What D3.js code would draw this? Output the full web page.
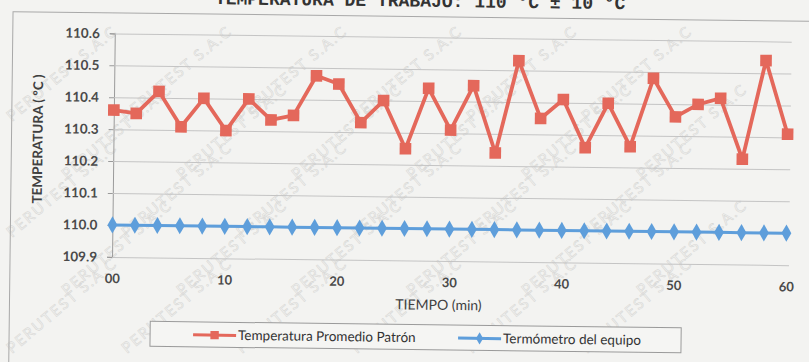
<!DOCTYPE html>
<html>
<head>
<meta charset="utf-8">
<script src="https://cdn.jsdelivr.net/npm/d3@7"></script>
<style>
  body { margin: 0; background: #f3f3f1; }
  svg { display: block; }
</style>
</head>
<body>
<div id="chart"></div>
<script>
const minutes = [0, 2, 4, 6, 8, 10, 12, 14, 16, 18, 20, 22, 24, 26, 28, 30,
                 32, 34, 36, 38, 40, 42, 44, 46, 48, 50, 52, 54, 56, 58, 60];
const patron = [110.36, 110.35, 110.42, 110.31, 110.40, 110.30, 110.40, 110.335, 110.35, 110.475, 110.45,
                110.33, 110.40, 110.25, 110.44, 110.31, 110.45, 110.24, 110.53, 110.35, 110.41,
                110.26, 110.40, 110.265, 110.48, 110.36, 110.40, 110.42, 110.23, 110.54, 110.31];
const equipo = [110.00, 110.00, 110.00, 110.00, 110.00, 110.00, 110.00, 110.00, 110.00, 110.00, 110.00,
                110.00, 110.00, 110.00, 110.00, 110.00, 110.00, 110.00, 110.00, 110.00, 110.00,
                110.00, 110.00, 110.00, 110.00, 110.00, 110.00, 110.00, 110.00, 110.00, 110.00];
const yTicks = [109.9, 110.0, 110.1, 110.2, 110.3, 110.4, 110.5, 110.6];
const xTicks = [0, 10, 20, 30, 40, 50, 60];
const xTickLabels = ['00', '10', '20', '30', '40', '50', '60'];
const seriesNames = ['Temperatura Promedio Patrón', 'Termómetro del equipo'];
const title = 'TEMPERATURA DE TRABAJO: 110 °C ± 10 °C';
const watermark = 'PERUTEST S.A.C';

const width = 809, height = 362;
const red = '#e4685b', blue = '#5e9edb';
const font = 'Lato, "Open Sans", sans-serif';

const svg = d3.select('#chart').append('svg')
    .attr('width', width)
    .attr('height', height);

// faint watermark of the scanned certificate, kept inside the page
const wm = svg.append('g').attr('class', 'watermark');
for (let r = 0; r < 5; r++) {
    for (let c = 0; c < 7; c++) {
        const x = 12 + c * 115 + (r % 2) * 55;
        const y = 122 + r * 58;
        if (x + 135 > width) continue;
        wm.append('text')
            .attr('transform', 'translate(' + x + ',' + y + ') rotate(-40)')
            .text(watermark)
            .style('font-family', font)
            .style('font-size', '15px')
            .style('letter-spacing', '2px')
            .attr('fill', 'none')
            .attr('stroke', '#d8d8d6')
            .attr('stroke-width', 0.6);
    }
}

// scanned page is slightly tilted
const page = svg.append('g').attr('transform', 'rotate(0.7,450,181)');

// outer chart frame
page.append('rect')
    .attr('x', 11).attr('y', 17)
    .attr('width', 820).attr('height', 360)
    .attr('fill', 'none')
    .attr('stroke', '#a8a8a8')
    .attr('stroke-width', 1);

page.append('text')
    .attr('x', 418).attr('y', 7)
    .attr('text-anchor', 'middle')
    .style('font-family', '"Liberation Mono", monospace')
    .style('font-weight', 'bold')
    .style('font-size', '18px')
    .attr('fill', '#333')
    .text(title);

const xScale = d3.scaleLinear().domain([0, 60]).range([113, 787]);
const yScale = d3.scaleLinear().domain([109.9, 110.6]).range([261, 37.5]);

// gridlines + y axis
const yAxis = page.append('g').classed('y-axis', true)
    .attr('transform', 'translate(113,0)')
    .call(d3.axisLeft(yScale).tickValues(yTicks).tickFormat(d3.format('.1f'))
        .tickSize(5).tickPadding(10));
yAxis.select('.domain').attr('stroke', '#9a9a9a');
yAxis.selectAll('.tick line').attr('stroke', '#9a9a9a');
yAxis.selectAll('.tick').append('line')
    .attr('x1', 0).attr('x2', 677)
    .attr('stroke', '#c4c4c4')
    .attr('stroke-width', 1);
yAxis.selectAll('text')
    .style('font-family', font)
    .style('font-size', '13.5px')
    .style('font-weight', 'bold')
    .attr('fill', '#4a4a4a');

const xAxis = page.append('g').classed('x-axis', true)
    .attr('transform', 'translate(0,' + yScale(109.9) + ')')
    .call(d3.axisBottom(xScale).tickValues(xTicks)
        .tickFormat((d, i) => xTickLabels[i]).tickSize(0).tickPadding(17));
xAxis.select('.domain').remove();
xAxis.selectAll('text')
    .style('font-family', font)
    .style('font-size', '13px')
    .style('font-weight', 'bold')
    .attr('fill', '#4a4a4a');

page.append('text')
    .attr('x', 440).attr('y', 310)
    .attr('text-anchor', 'middle')
    .style('font-family', font)
    .style('font-size', '14px')
    .attr('fill', '#404040')
    .text('TIEMPO  (min)');

page.append('text')
    .attr('transform', 'translate(42,144) rotate(-90)')
    .attr('text-anchor', 'middle')
    .style('font-family', font)
    .style('font-size', '13.5px')
    .style('font-weight', 'bold')
    .attr('fill', '#404040')
    .text('TEMPERATURA  ( ºC )');

// series
const line = d3.line()
    .x(d => xScale(d[0]))
    .y(d => yScale(d[1]));

const blueData = minutes.map((m, i) => [m, equipo[i]]);
const redData = minutes.map((m, i) => [m, patron[i]]);

page.append('path')
    .datum(blueData)
    .attr('d', line)
    .attr('fill', 'none')
    .attr('stroke', blue)
    .attr('stroke-width', 3);
page.append('g').selectAll('path')
    .data(blueData)
    .join('path')
    .attr('transform', d => 'translate(' + xScale(d[0]) + ',' + yScale(d[1]) + ')')
    .attr('d', d3.symbol(d3.symbolDiamond).size(85))
    .attr('fill', blue);

page.append('path')
    .datum(redData)
    .attr('d', line)
    .attr('fill', 'none')
    .attr('stroke', red)
    .attr('stroke-width', 3.8)
    .attr('stroke-linejoin', 'round');
page.append('g').selectAll('path')
    .data(redData)
    .join('path')
    .attr('transform', d => 'translate(' + xScale(d[0]) + ',' + yScale(d[1]) + ')')
    .attr('d', d3.symbol(d3.symbolSquare).size(135))
    .attr('fill', red);

// legend
const legend = page.append('g').classed('legend', true);
legend.append('rect')
    .attr('x', 152).attr('y', 325)
    .attr('width', 531).attr('height', 25)
    .attr('fill', '#f5f5f3')
    .attr('stroke', '#9a9a9a');

const legendItems = [
    {name: seriesNames[0], color: red, x0: 195, x1: 238, symbol: d3.symbolSquare, size: 70},
    {name: seriesNames[1], color: blue, x0: 460, x1: 503, symbol: d3.symbolDiamond, size: 45}
];
legendItems.forEach(item => {
    legend.append('line')
        .attr('x1', item.x0).attr('x2', item.x1)
        .attr('y1', 338).attr('y2', 338)
        .attr('stroke', item.color)
        .attr('stroke-width', 3);
    legend.append('path')
        .attr('transform', 'translate(' + (item.x0 + item.x1) / 2 + ',338)')
        .attr('d', d3.symbol(item.symbol).size(item.size))
        .attr('fill', item.color);
    legend.append('text')
        .attr('x', item.x1 + 2).attr('y', 342.5)
        .style('font-family', font)
        .style('font-size', '13.5px')
        .attr('fill', '#333')
        .text(item.name);
});
</script>
</body>
</html>
